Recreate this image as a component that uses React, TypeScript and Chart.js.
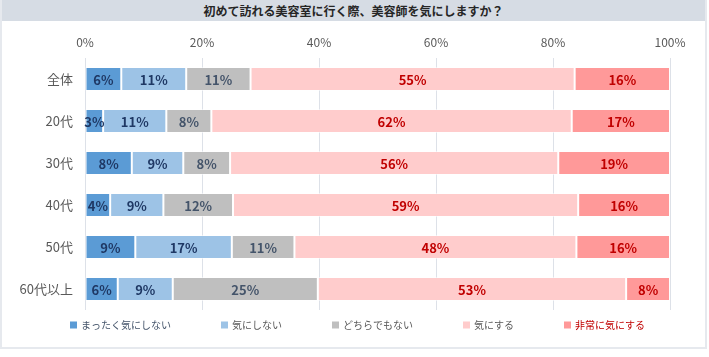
import React, { useEffect, useRef } from "react";
import { Chart, registerables } from "chart.js";

Chart.register(...registerables);

const title = "初めて訪れる美容室に行く際、美容師を気にしますか？";
const categories = ["全体", "20代", "30代", "40代", "50代", "60代以上"];
const seriesNames = ["まったく気にしない", "気にしない", "どちらでもない", "気にする", "非常に気にする"];
const notAtAll = [6.2, 3.1, 8.0, 4.3, 8.6, 5.6];
const notMuch = [11.1, 10.8, 8.8, 9.1, 16.5, 9.4];
const neutral = [11.0, 7.7, 8.0, 11.9, 10.7, 24.8];
const care = [55.4, 61.6, 56.1, 59.0, 48.2, 52.7];
const careVery = [16.3, 16.8, 19.1, 15.7, 16.0, 7.5];
const tickValues = [0, 20, 40, 60, 80, 100];

const barColors = ["#5b9bd5", "#9dc3e6", "#bfbfbf", "#ffcccc", "#ff9999"];
const labelColors = ["#1f3864", "#1f3864", "#44546a", "#c00000", "#c00000"];
const legendTextColors = ["#44546a", "#595959", "#595959", "#595959", "#c00000"];
const FONT = "'Noto Sans CJK JP', 'Noto Sans', sans-serif";

const valueLabels = {
  id: "valueLabels",
  afterDatasetsDraw(chart: any) {
    const ctx = chart.ctx;
    ctx.save();
    ctx.font = `bold 13px ${FONT}`;
    ctx.textAlign = "center";
    ctx.textBaseline = "middle";
    chart.data.datasets.forEach((ds: any, di: number) => {
      const meta = chart.getDatasetMeta(di);
      if (meta.hidden) return;
      meta.data.forEach((el: any, i: number) => {
        const p = el.getProps(["x", "y", "base"], true);
        const cx = (p.x + p.base) / 2;
        ctx.fillStyle = labelColors[di];
        ctx.fillText(Math.round(ds.data[i]) + "%", cx, p.y + 1);
      });
    });
    ctx.restore();
  },
};

// Excel-like legend: evenly gapped items, centred below the plot
const spreadLegend = {
  id: "spreadLegend",
  afterDraw(chart: any) {
    const ctx = chart.ctx;
    const box = 7;
    const boxGap = 4;
    const gap = 50;
    ctx.save();
    ctx.font = `10px ${FONT}`;
    ctx.textBaseline = "middle";
    ctx.textAlign = "left";
    const widths = seriesNames.map((t) => ctx.measureText(t).width);
    const total = widths.reduce((a, w) => a + box + boxGap + w, 0) + gap * (seriesNames.length - 1);
    const cx = (chart.chartArea.left + chart.chartArea.right) / 2 - 20;
    let x = cx - total / 2;
    const y = chart.chartArea.bottom + 15;
    seriesNames.forEach((t, i) => {
      ctx.fillStyle = barColors[i];
      ctx.fillRect(x, y - box / 2, box, box);
      ctx.fillStyle = legendTextColors[i];
      ctx.fillText(t, x + box + boxGap, y);
      x += box + boxGap + widths[i] + gap;
    });
    ctx.restore();
  },
};

export default function App() {
  const ref = useRef<HTMLCanvasElement | null>(null);
  useEffect(() => {
    if (!ref.current) return;
    const seriesData = [notAtAll, notMuch, neutral, care, careVery];
    const chart = new Chart(ref.current, {
      type: "bar",
      data: {
        labels: categories,
        datasets: seriesNames.map((name, i) => ({
          label: name,
          data: seriesData[i],
          backgroundColor: barColors[i],
          borderColor: "rgba(255,255,255,0.5)",
          borderWidth: 1,
          borderSkipped: false,
          barPercentage: 0.57,
          categoryPercentage: 1,
        })),
      },
      options: {
        indexAxis: "y",
        animation: false,
        responsive: false,
        maintainAspectRatio: false,
        layout: { padding: { top: 10, left: 0, right: 35, bottom: 37 } },
        scales: {
          x: {
            position: "top",
            stacked: true,
            min: 0,
            max: 100,
            afterBuildTicks: (scale: any) => {
              scale.ticks = tickValues.map((v) => ({ value: v }));
            },
            afterFit: (scale: any) => {
              scale.height = 27;
            },
            grid: { color: "#dde1e8", lineWidth: 1, drawTicks: false },
            border: { display: false },
            ticks: {
              padding: 8,
              color: "#595959",
              font: { family: FONT, size: 12 },
              callback: (v: any) => v + "%",
            },
          },
          y: {
            stacked: true,
            afterFit: (scale: any) => {
              scale.width = 83;
            },
            grid: { display: false },
            border: { display: false },
            ticks: {
              padding: 4,
              color: "#595959",
              font: { family: FONT, size: 13 },
            },
          },
        },
        plugins: {
          title: { display: false },
          tooltip: { enabled: false },
          legend: { display: false },
        },
      },
      plugins: [valueLabels, spreadLegend],
    });
    return () => chart.destroy();
  }, []);

  return (
    <div
      style={{
        position: "absolute",
        left: 0,
        top: 0,
        width: 703,
        border: "2px solid #e6e9ee",
        borderTop: "none",
        background: "#ffffff",
      }}
    >
      <div
        style={{
          height: 21,
          background: "#d6dce4",
          color: "#262626",
          fontFamily: FONT,
          fontWeight: "bold",
          fontSize: 12,
          lineHeight: "21px",
          textAlign: "center",
        }}
      >
        {title}
      </div>
      <canvas ref={ref} width={703} height={326} style={{ display: "block" }} />
    </div>
  );
}
